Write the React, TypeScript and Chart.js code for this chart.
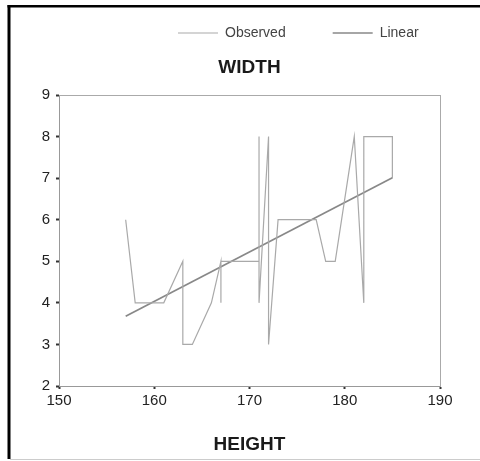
import React, { useEffect, useRef } from "react";
import { Chart, registerables } from "chart.js";

Chart.register(...registerables);

// Observed path (HEIGHT, WIDTH), in plotted order
const heights = [157, 158, 161, 163, 163, 164, 166, 167, 167, 167, 171, 171, 171, 172, 172, 173, 177, 178, 179, 181, 182, 182, 185, 185];
const widths = [6, 4, 4, 5, 3, 3, 4, 5, 4, 5, 5, 8, 4, 8, 3, 6, 6, 5, 5, 8, 4, 8, 8, 7];
// Linear fit line end points
const fitHeights = [157, 185];
const fitWidths = [3.68, 7.01];
// Axes
const xTicks = [150, 160, 170, 180, 190];
const yTicks = [2, 3, 4, 5, 6, 7, 8, 9];
const seriesLabels = ["Observed", "Linear"];
const chartTitle = "WIDTH";
const xTitle = "HEIGHT";

const frame = {
  id: "frame",
  beforeDraw(chart: any) {
    const ctx = chart.ctx;
    ctx.save();
    ctx.fillStyle = "#ffffff";
    ctx.fillRect(0, 0, chart.width, chart.height);
    ctx.strokeStyle = "#000000";
    ctx.lineWidth = 3;
    ctx.beginPath();
    ctx.moveTo(9, 5);
    ctx.lineTo(9, 459);
    ctx.stroke();
    ctx.lineWidth = 2.5;
    ctx.beginPath();
    ctx.moveTo(7.5, 6.2);
    ctx.lineTo(chart.width, 6.2);
    ctx.stroke();
    ctx.strokeStyle = "#cccccc";
    ctx.lineWidth = 1;
    ctx.beginPath();
    ctx.moveTo(10, 459.5);
    ctx.lineTo(chart.width, 459.5);
    ctx.stroke();
    ctx.restore();
  },
};

export default function App() {
  const ref = useRef<HTMLCanvasElement | null>(null);

  useEffect(() => {
    if (!ref.current) return;
    Chart.defaults.font.family = "'Liberation Sans', Arial, Helvetica, sans-serif";
    const observed = heights.map((h, i) => ({ x: h, y: widths[i] }));
    const fit = fitHeights.map((h, i) => ({ x: h, y: fitWidths[i] }));
    const chart = new Chart(ref.current, {
      type: "scatter",
      data: {
        datasets: [
          {
            label: seriesLabels[0],
            data: observed,
            showLine: true,
            borderColor: "#a9a9a9",
            backgroundColor: "#a9a9a9",
            borderWidth: 1.2,
            pointRadius: 0,
            tension: 0,
          },
          {
            label: seriesLabels[1],
            data: fit,
            showLine: true,
            borderColor: "#888888",
            backgroundColor: "#888888",
            borderWidth: 1.7,
            pointRadius: 0,
            tension: 0,
          },
        ],
      },
      options: {
        responsive: false,
        animation: false,
        devicePixelRatio: 1,
        layout: { padding: { top: -21, left: 0, right: 14.4, bottom: 0 } },
        plugins: {
          legend: {
            display: true,
            position: "top",
            align: "end",
            weight: 3000,
            labels: {
              usePointStyle: true,
              pointStyle: "line",
              pointStyleWidth: 40,
              padding: 47,
              color: "#444444",
              font: { size: 14 },
            },
          } as any,
          title: {
            display: true,
            fullSize: false,
            text: chartTitle,
            color: "#1a1a1a",
            font: { size: 19, weight: "bold" },
            padding: { top: 6.6, bottom: 15.6 },
          },
          tooltip: { enabled: false },
        },
        scales: {
          x: {
            type: "linear",
            position: "bottom",
            min: 150,
            max: 190,
            afterBuildTicks: (s: any) => {
              s.ticks = xTicks.map((v) => ({ value: v }));
            },
            ticks: { color: "#222222", font: { size: 15 }, padding: 3, maxRotation: 0 },
            grid: { display: true, drawOnChartArea: false, drawTicks: true, tickLength: 3, tickColor: "#333333", tickWidth: 2 },
            border: { display: true, color: "#999999", width: 1 },
            title: {
              display: true,
              text: xTitle,
              color: "#1a1a1a",
              font: { size: 19, weight: "bold" },
              padding: { top: 0, bottom: 5 },
            },
            afterFit: (s: any) => {
              s.height = 75;
            },
          },
          y: {
            type: "linear",
            position: "left",
            min: 2,
            max: 9,
            afterBuildTicks: (s: any) => {
              s.ticks = yTicks.map((v) => ({ value: v }));
            },
            ticks: { color: "#222222", font: { size: 15 }, padding: 6 },
            grid: { display: true, drawOnChartArea: false, drawTicks: true, tickLength: 3, tickColor: "#333333", tickWidth: 2 },
            border: { display: true, color: "#999999", width: 1 },
            afterFit: (s: any) => {
              s.width = 59;
            },
          },
          x2: {
            type: "linear",
            position: "top",
            min: 150,
            max: 190,
            ticks: { display: false },
            grid: { display: false },
            border: { display: true, color: "#aaaaaa", width: 1 },
            afterFit: (s: any) => {
              s.height = 0;
            },
          },
          y2: {
            type: "linear",
            position: "right",
            min: 2,
            max: 9,
            ticks: { display: false },
            grid: { display: false },
            border: { display: true, color: "#aaaaaa", width: 1 },
            afterFit: (s: any) => {
              s.width = 25.6;
            },
          },
        },
      } as any,
      plugins: [frame],
    });
    return () => chart.destroy();
  }, []);

  return (
    <div style={{ position: "fixed", left: 0, top: 0, width: 480, height: 461, background: "#fff" }}>
      <canvas ref={ref} width={480} height={461} style={{ display: "block" }} />
    </div>
  );
}
